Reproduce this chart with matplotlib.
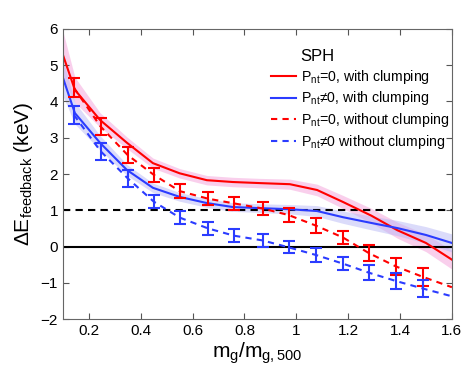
import numpy as np
import matplotlib
matplotlib.use("Agg")
import matplotlib.pyplot as plt

plt.rcParams['font.family'] = ['Liberation Sans', 'DejaVu Sans']
plt.rcParams['mathtext.fontset'] = 'custom'
plt.rcParams['mathtext.rm'] = 'Liberation Sans'
plt.rcParams['mathtext.it'] = 'Liberation Sans'

# solid curves (with clumping) and their shaded spread
x_solid = [0.1, 0.146, 0.243, 0.347, 0.447, 0.55, 0.655, 0.755, 0.86, 0.975, 1.08, 1.18, 1.29, 1.39, 1.5, 1.6]
red_solid = [5.28, 4.32, 3.49, 2.86, 2.30, 2.02, 1.83, 1.78, 1.75, 1.72, 1.56, 1.23, 0.85, 0.45, 0.10, -0.36]
red_band = [0.65, 0.35, 0.2, 0.16, 0.14, 0.13, 0.13, 0.13, 0.13, 0.14, 0.16, 0.18, 0.2, 0.22, 0.24, 0.26]
blue_solid = [4.65, 3.68, 2.86, 2.11, 1.62, 1.37, 1.20, 1.09, 1.06, 1.03, 0.98, 0.81, 0.65, 0.51, 0.32, 0.10]
blue_band = [0.5, 0.3, 0.2, 0.15, 0.13, 0.12, 0.12, 0.12, 0.12, 0.13, 0.15, 0.17, 0.19, 0.21, 0.23, 0.25]

# dashed curves (without clumping) with error bars
x_err = [0.142, 0.245, 0.35, 0.45, 0.55, 0.66, 0.76, 0.87, 0.97, 1.075, 1.18, 1.28, 1.385, 1.49]
red_dash = [4.38, 3.31, 2.52, 1.98, 1.53, 1.32, 1.19, 1.05, 0.87, 0.58, 0.25, -0.18, -0.55, -0.84]
red_err = [0.27, 0.23, 0.22, 0.2, 0.19, 0.18, 0.18, 0.18, 0.19, 0.21, 0.18, 0.22, 0.23, 0.25]
blue_dash = [3.63, 2.63, 1.88, 1.24, 0.80, 0.50, 0.30, 0.17, -0.02, -0.23, -0.47, -0.72, -0.95, -1.16]
blue_err = [0.25, 0.23, 0.23, 0.18, 0.18, 0.18, 0.18, 0.18, 0.17, 0.2, 0.18, 0.2, 0.22, 0.24]
x_end = 1.6
red_end = -1.12
blue_end = -1.37

red = '#ff0000'
blue = '#2b3cff'

fig = plt.figure(figsize=(4.63, 3.66), dpi=100)
ax = fig.add_axes([0.136, 0.128, 0.840, 0.793])

xs = np.array(x_solid)
ax.fill_between(xs, np.array(red_solid) - red_band, np.array(red_solid) + red_band,
                color='#f6b0e0', alpha=0.6, lw=0)
ax.fill_between(xs, np.array(blue_solid) - blue_band, np.array(blue_solid) + blue_band,
                color='#b8b8f6', alpha=0.5, lw=0)

ax.axhline(1, color='k', ls='--', lw=1.5, dashes=(3.5, 2.5))
ax.axhline(0, color='k', ls='-', lw=1.5)

l1, = ax.plot(x_solid, red_solid, color=red, lw=1.5)
l2, = ax.plot(x_solid, blue_solid, color=blue, lw=1.5)
l3, = ax.plot(x_err + [x_end], red_dash + [red_end], color=red, lw=1.5, ls='--', dashes=(3, 2.5))
l4, = ax.plot(x_err + [x_end], blue_dash + [blue_end], color=blue, lw=1.5, ls='--', dashes=(3, 2.5))
ax.errorbar(x_err, red_dash, yerr=red_err, fmt='none', ecolor=red, elinewidth=1.5,
            capsize=4, capthick=1.5)
ax.errorbar(x_err, blue_dash, yerr=blue_err, fmt='none', ecolor=blue, elinewidth=1.5,
            capsize=4, capthick=1.5)

ax.set_xlim(0.1, 1.6)
ax.set_ylim(-2, 6)
ax.set_xticks([0.2, 0.4, 0.6, 0.8, 1.0, 1.2, 1.4, 1.6])
ax.set_xticklabels(['0.2', '0.4', '0.6', '0.8', '1', '1.2', '1.4', '1.6'])
ax.set_yticks(range(-2, 7))
ax.set_yticklabels(['\u22122', '\u22121', '0', '1', '2', '3', '4', '5', '6'])
ax.tick_params(direction='in', top=True, right=True, labelsize=11, length=4, color='#555555')
for s in ax.spines.values():
    s.set_color('#666666')

ax.set_xlabel(r'm$_{\rm g}$/m$_{\rm g,500}$', fontsize=15, labelpad=2)
ax.set_ylabel(r'$\Delta$E$_{\rm feedback}$ (keV)', fontsize=15, labelpad=4)

ax.text(0.609, 0.905, 'SPH', transform=ax.transAxes, fontsize=12, va='center')
ax.legend([l1, l2, l3, l4],
          [r'P$_{\rm nt}$=0, with clumping', r'P$_{\rm nt}$≠0, with clumping',
           r'P$_{\rm nt}$=0, without clumping', r'P$_{\rm nt}$≠0 without clumping'],
          loc='upper left', bbox_to_anchor=(0.52, 0.885), frameon=False, fontsize=10.2,
          handlelength=1.8, handletextpad=0.3, labelspacing=0.25, borderaxespad=0)

fig.savefig('out.png', dpi=100)
